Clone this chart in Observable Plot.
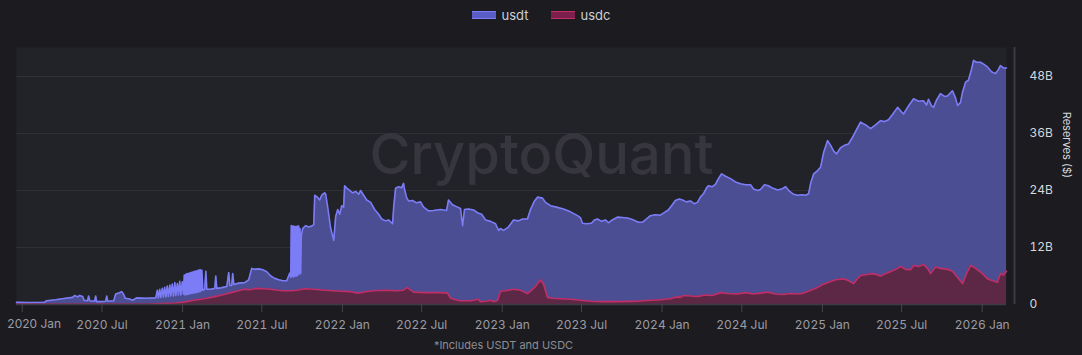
<!DOCTYPE html>
<html>
<head>
<meta charset="utf-8">
<script src="https://cdn.jsdelivr.net/npm/d3@7"></script>
<script src="https://cdn.jsdelivr.net/npm/@observablehq/plot@0.6"></script>
<style>
  html, body { margin: 0; padding: 0; background: #1b1b20; width: 1082px; height: 355px; overflow: hidden; font-family: Inter, "Noto Sans", sans-serif; }
  #legend { height: 30px; display: flex; justify-content: center; align-items: center; gap: 22px; color: #cfcfd4; font-size: 13px; }
  #legend .item { display: flex; align-items: center; gap: 6px; }
  #legend .sw { width: 24px; height: 6px; }
  #chart { height: 304px; }
  #caption { position: absolute; left: 0; top: 338px; width: 1007px; text-align: center; color: #8d8d95; font-size: 11px; }
</style>
</head>
<body>
<div id="legend"></div>
<div id="chart"></div>
<div id="caption"></div>
<script>
// ---- data (dates as decimal years, values in billions of $) ----
const seriesNames = ["usdt", "usdc"];
const usdtDates = [2019.964,2020.039,2020.139,2020.152,2020.208,2020.271,2020.314,2020.327,2020.346,2020.358,2020.377,2020.386,2020.408,2020.414,2020.421,2020.452,2020.458,2020.464,2020.489,2020.521,2020.527,2020.533,2020.571,2020.583,2020.602,2020.621,2020.633,2020.643,2020.664,2020.689,2020.714,2020.771,2020.833,
2020.843,2020.849,2020.858,2020.864,2020.874,2020.880,2020.889,2020.896,2020.905,2020.911,2020.921,2020.927,2020.936,2020.943,2020.952,2020.958,2020.968,2020.974,2020.983,2020.989,2020.999,2021.005,
2021.011,2021.015,2021.019,2021.023,2021.027,2021.030,2021.035,2021.039,2021.043,2021.046,2021.050,2021.054,2021.058,2021.062,2021.066,2021.070,2021.074,2021.078,2021.082,2021.086,2021.089,2021.093,2021.097,2021.101,2021.105,2021.109,2021.113,2021.117,2021.121,
2021.127,2021.139,2021.146,2021.152,2021.177,2021.202,2021.208,2021.214,2021.239,2021.277,2021.289,2021.296,2021.308,2021.314,2021.321,2021.352,2021.389,2021.414,2021.433,2021.452,2021.477,2021.502,2021.527,2021.552,2021.577,2021.602,2021.627,2021.652,2021.671,2021.677,
2021.680,2021.684,2021.688,2021.692,2021.696,2021.699,2021.704,2021.708,2021.711,2021.715,2021.719,2021.723,2021.727,2021.731,2021.735,2021.739,2021.743,
2021.752,2021.771,2021.789,2021.808,2021.821,2021.827,2021.846,2021.858,2021.871,2021.889,2021.896,2021.908,2021.927,2021.946,2021.958,2021.971,2021.983,2021.996,2022.008,2022.014,2022.027,2022.046,2022.064,2022.083,2022.102,2022.114,2022.133,2022.152,2022.177,2022.202,2022.227,2022.246,2022.271,2022.289,2022.308,2022.314,2022.321,2022.333,2022.352,2022.371,2022.383,2022.389,2022.402,2022.414,2022.439,2022.464,2022.489,2022.508,2022.539,2022.571,2022.614,2022.652,2022.664,2022.689,2022.714,2022.739,2022.752,2022.764,2022.789,2022.821,2022.852,2022.871,2022.896,2022.927,2022.958,2022.977,2022.989,
2023.008,2023.039,2023.071,2023.102,2023.127,2023.158,2023.177,2023.202,2023.221,2023.252,2023.271,2023.302,2023.339,2023.383,2023.427,2023.471,2023.489,2023.502,2023.527,2023.558,2023.577,2023.596,2023.621,2023.646,2023.664,2023.689,2023.721,2023.752,2023.783,2023.814,2023.852,2023.877,2023.902,2023.927,2023.958,2023.989,
2024.021,2024.039,2024.064,2024.083,2024.108,2024.127,2024.152,2024.177,2024.202,2024.221,2024.239,2024.258,2024.277,2024.289,2024.314,2024.333,2024.352,2024.371,2024.396,2024.427,2024.458,2024.489,2024.521,2024.552,2024.571,2024.596,2024.614,2024.639,2024.664,2024.689,2024.721,2024.746,2024.771,2024.796,2024.821,2024.846,2024.871,2024.896,2024.914,2024.927,2024.946,2024.971,2024.989,
2025.008,2025.033,2025.052,2025.071,2025.089,2025.114,2025.139,2025.164,2025.189,2025.214,2025.239,2025.271,2025.302,2025.333,2025.364,2025.389,2025.414,2025.439,2025.471,2025.489,2025.508,2025.539,2025.571,2025.602,2025.633,2025.652,2025.664,2025.683,2025.696,2025.714,2025.739,2025.764,2025.783,2025.814,2025.833,2025.846,2025.864,2025.877,2025.896,2025.914,2025.933,2025.946,2025.964,2025.989,
2026.014,2026.033,2026.058,2026.083,2026.102,2026.114,2026.133,2026.152];
const usdtValues = [0.45,0.4,0.45,0.8,1.0,1.3,1.5,1.9,1.6,1.9,1.7,0.9,0.8,1.8,0.8,0.7,1.8,0.6,0.6,0.7,1.8,0.7,0.8,2.2,2.4,2.7,2.1,1.3,1.2,0.9,1.4,1.3,1.4,
3.0,1.4,3.2,1.5,3.4,1.6,3.6,1.6,3.9,1.7,4.1,1.8,4.3,1.8,4.6,1.9,4.4,2.0,4.9,2.0,4.8,2.2,
6.2,2.0,6.3,2.1,6.5,2.1,6.5,2.2,6.6,2.2,6.7,2.3,6.8,2.4,6.9,2.4,7.0,2.5,7.0,2.5,7.1,2.6,7.2,2.7,7.3,2.7,7.3,2.9,7.2,
3.0,3.2,7.0,3.2,3.2,3.4,6.0,3.4,3.5,3.8,6.7,4.0,4.0,6.5,4.2,4.5,4.6,5.2,7.6,7.4,7.5,7.3,6.9,6.0,5.5,5.2,5.0,5.0,6.6,5.7,
16.6,6.0,16.5,5.8,16.5,5.9,16.4,6.0,16.4,6.0,16.5,6.2,16.5,6.5,16.0,6.5,14.5,
16.0,16.6,16.3,16.5,16.8,23.0,22.5,22.0,23.0,23.5,23.2,20.5,16.0,13.5,18.5,20.0,19.0,20.8,20.5,25.0,24.5,24.0,23.5,23.8,23.2,24.0,23.0,22.0,21.5,20.0,19.0,18.0,17.6,17.8,17.2,17.0,20.5,24.5,24.8,24.6,25.5,24.2,22.5,21.8,21.9,21.4,21.6,20.5,19.7,19.8,20.0,19.8,22.0,21.0,20.6,20.2,16.6,20.0,20.1,19.9,19.2,19.0,17.8,17.5,17.0,15.6,16.0,
15.6,16.3,17.8,17.6,18.0,18.0,20.0,21.8,22.6,22.4,21.5,20.8,20.5,20.1,19.5,18.7,18.3,17.1,17.0,17.1,17.8,18.0,17.5,17.8,17.2,17.8,18.4,18.3,18.2,17.9,17.3,17.3,18.0,18.7,18.9,18.8,
19.5,19.9,21.0,21.9,22.2,22.0,21.6,21.8,21.2,21.5,22.6,23.3,24.5,25.0,24.8,25.3,26.5,27.5,27.0,26.5,25.8,25.4,25.2,25.2,24.3,24.0,24.2,25.2,25.0,24.5,24.1,24.3,24.8,23.8,23.2,23.0,23.1,23.0,23.3,25.5,27.5,28.2,28.9,
32.0,34.5,33.5,32.3,31.7,33.0,33.5,33.8,35.2,36.8,38.4,37.8,37.0,37.8,38.7,38.5,38.9,40.0,41.5,40.8,40.1,41.8,43.3,42.8,42.9,42.0,43.2,41.8,41.5,43.0,44.4,43.8,43.9,45.0,43.5,41.9,42.5,44.7,46.8,47.2,49.5,51.4,51.0,51.0,
50.5,50.0,49.0,48.6,49.5,50.3,49.8,49.8];

const usdcDates = [2019.964,2020.802,2020.958,2021.008,2021.052,2021.133,2021.196,2021.258,2021.302,2021.339,2021.383,2021.421,2021.464,2021.508,2021.552,2021.596,2021.633,2021.677,2021.714,2021.764,2021.821,2021.896,2021.989,2022.052,2022.096,2022.146,2022.196,2022.271,2022.333,2022.383,2022.402,2022.421,2022.446,2022.521,2022.614,2022.658,2022.677,2022.708,2022.739,2022.802,2022.852,2022.864,2022.896,2022.927,2022.952,2022.971,2022.989,
2023.021,2023.071,2023.114,2023.158,2023.177,2023.208,2023.239,2023.258,2023.283,2023.314,2023.364,2023.427,2023.489,2023.552,2023.614,2023.708,2023.802,2023.846,2023.927,2023.989,
2024.052,2024.089,2024.114,2024.133,2024.177,2024.221,2024.271,2024.314,2024.364,2024.408,2024.471,2024.521,2024.571,2024.614,2024.658,2024.708,2024.758,2024.802,2024.846,2024.883,2024.927,2024.971,
2025.002,2025.039,2025.083,2025.133,2025.164,2025.196,2025.221,2025.239,2025.277,2025.321,2025.364,2025.402,2025.446,2025.471,2025.489,2025.521,2025.552,2025.571,2025.602,2025.633,2025.658,2025.677,2025.708,2025.739,2025.783,2025.814,2025.846,2025.877,2025.902,2025.927,2025.946,2025.971,
2026.002,2026.033,2026.064,2026.096,2026.114,2026.133,2026.152];
const usdcValues = [0.05,0.1,0.3,0.5,0.8,1.2,1.6,2.1,2.5,2.8,3.2,3.1,3.4,3.3,3.2,3.0,2.9,2.9,3.0,3.3,3.2,3.0,2.8,2.7,2.4,2.7,2.9,3.0,2.9,3.0,3.6,3.2,2.6,2.5,2.5,2.4,1.3,1.0,0.8,0.8,1.1,0.6,0.7,0.9,0.6,0.9,2.8,
2.9,3.2,3.0,2.3,2.8,3.8,5.2,4.3,1.5,1.3,1.2,1.1,0.9,0.7,0.6,0.6,0.65,0.7,0.9,1.0,
1.2,1.6,1.5,1.9,1.8,1.7,2.0,1.9,2.5,2.3,2.2,2.5,2.2,2.4,2.6,2.2,2.1,2.3,2.2,2.4,3.0,3.6,
4.2,4.7,5.2,5.4,5.0,4.4,5.5,6.1,6.3,6.5,6.0,6.6,7.2,7.6,8.0,7.4,7.3,8.2,8.0,8.4,7.6,6.5,7.9,7.6,7.4,7.0,5.7,4.4,6.5,8.2,7.9,7.3,
6.5,5.4,5.0,4.7,6.5,6.2,7.0];

const yTicks = [0, 12, 24, 36, 48];
const yTickLabels = ["0", "12B", "24B", "36B", "48B"];
const xTickDates = ["2020-01-01","2020-07-01","2021-01-01","2021-07-01","2022-01-01","2022-07-01","2023-01-01","2023-07-01","2024-01-01","2024-07-01","2025-01-01","2025-07-01","2026-01-01"];
const xTickLabels = ["2020 Jan","2020 Jul","2021 Jan","2021 Jul","2022 Jan","2022 Jul","2023 Jan","2023 Jul","2024 Jan","2024 Jul","2025 Jan","2025 Jul","2026 Jan"];
const yLabel = "Reserves ($)";
const watermark = "CryptoQuant";
const captionText = "*Includes USDT and USDC";

// ---- build ----
function toDate(t) {
  const y = Math.floor(t);
  const s = Date.UTC(y, 0, 1), e = Date.UTC(y + 1, 0, 1);
  return new Date(s + (t - y) * (e - s));
}
const usdt = usdtDates.map((t, i) => ({date: toDate(t), value: usdtValues[i]}));
const usdc = usdcDates.map((t, i) => ({date: toDate(t), value: usdcValues[i]}));
const xTicks = xTickDates.map(s => new Date(s + "T00:00:00Z"));
const xDomain = [toDate(2019.964), toDate(2026.152)];

const colors = {
  usdt: {line: "#7b7cf6", fill: "#4c4e93", swatch: "#5b5dc6"},
  usdc: {line: "#c12f68", fill: "#5d2846", swatch: "#7c1f4d"}
};

const legend = document.getElementById("legend");
for (const n of seriesNames) {
  const it = document.createElement("div");
  it.className = "item";
  it.innerHTML = `<div class="sw" style="background:${colors[n].swatch};border-top:1px solid ${colors[n].line};border-bottom:1px solid ${colors[n].line}"></div><span>${n}</span>`;
  legend.appendChild(it);
}
document.getElementById("caption").textContent = captionText;

const chart = Plot.plot({
  width: 1082,
  height: 304,
  marginTop: 17,
  marginBottom: 30,
  marginLeft: 16,
  marginRight: 76,
  style: {background: "transparent", fontFamily: "Inter, 'Noto Sans', sans-serif", fontSize: "12px", overflow: "visible"},
  x: {type: "utc", domain: xDomain},
  y: {domain: [0, 54.1]},
  marks: [
    Plot.frame({fill: "#222328", stroke: null}),
    Plot.gridY({ticks: yTicks.slice(1), stroke: "#303137", strokeOpacity: 1, strokeWidth: 1}),
    Plot.text([watermark], {text: d => d, frameAnchor: "middle", dx: 30, dy: -20, fontSize: 56, fontWeight: 500, fill: "#37363e", fontFamily: "Inter, sans-serif"}),
    Plot.areaY(usdt, {x: "date", y: "value", fill: colors.usdt.fill}),
    Plot.lineY(usdt, {x: "date", y: "value", stroke: colors.usdt.line, strokeWidth: 1.6}),
    Plot.areaY(usdc, {x: "date", y: "value", fill: colors.usdc.fill}),
    Plot.lineY(usdc, {x: "date", y: "value", stroke: colors.usdc.line, strokeWidth: 1.6}),
    Plot.ruleY([0], {stroke: "#3c3d44", strokeWidth: 1.5}),
    Plot.ruleX([xDomain[1]], {dx: 8, stroke: "#3b3c43", strokeWidth: 2}),
    Plot.axisX({ticks: xTicks, tickFormat: (d, i) => i === 0 ? "" : xTickLabels[i], tickSize: 8, tickPadding: 8, stroke: "#45464d", color: "#9c9ca4", fontSize: 12, label: null}),
    Plot.text([xTicks[0]], {x: d => d, text: () => xTickLabels[0], frameAnchor: "bottom", dx: 12, dy: 23, fill: "#9c9ca4", fontSize: 12}),
    Plot.axisY({anchor: "right", ticks: yTicks, tickFormat: (d, i) => yTickLabels[i], tickSize: 0, tickPadding: 23, textAnchor: "start", color: "#d6d6da", fontSize: 12, label: null}),
    Plot.text([yLabel], {text: d => d, frameAnchor: "right", dx: 60, dy: 2, rotate: 90, fill: "#d6d6da", fontSize: 11})
  ]
});
document.getElementById("chart").appendChild(chart);
</script>
</body>
</html>
